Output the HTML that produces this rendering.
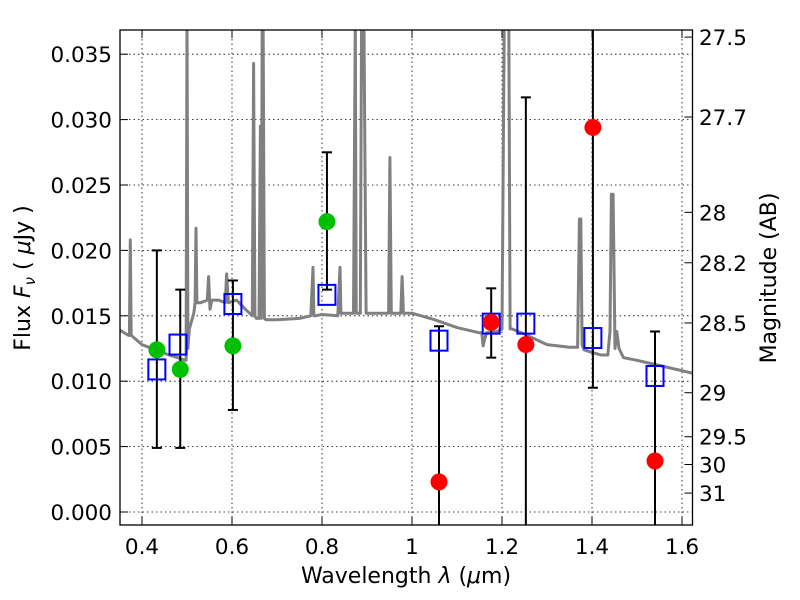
<!DOCTYPE html>
<html><head><meta charset="utf-8"><style>
html,body{margin:0;padding:0;background:#fff;overflow:hidden;width:800px;height:600px;}
svg{display:block;}
svg text{font-family:"DejaVu Sans","Liberation Sans",sans-serif;}
</style></head><body>
<svg id="chart" width="800" height="600" xmlns="http://www.w3.org/2000/svg">
<defs><clipPath id="clip"><rect x="120" y="30" width="572.5" height="495"/></clipPath></defs>
<g id="grid"></g>
<g id="spec" clip-path="url(#clip)"></g>
<g id="marks" clip-path="url(#clip)"></g>
<rect x="120" y="30" width="572.5" height="495" fill="none" stroke="#000" stroke-width="1.3"/>
<g id="axes"></g>
<text x="406" y="583" font-size="22" text-anchor="middle">Wavelength  <tspan font-style="italic">λ</tspan> (<tspan font-style="italic">μ</tspan>m)</text>
<text transform="translate(30,278) rotate(-90)" font-size="22" text-anchor="middle">Flux  <tspan font-style="italic">F</tspan><tspan font-style="italic" font-size="15" dy="5">ν</tspan><tspan dy="-5">  ( </tspan><tspan font-style="italic">μ</tspan>Jy )</text>
<text transform="translate(776,278) rotate(-90)" font-size="22" text-anchor="middle">Magnitude (AB)</text>
</svg>
<script>
const xTicks=[0.4,0.6,0.8,1.0,1.2,1.4,1.6];
const xTickLabels=["0.4","0.6","0.8","1","1.2","1.4","1.6"];
const yTicks=[0,0.005,0.010,0.015,0.020,0.025,0.030,0.035];
const yTickLabels=["0.000","0.005","0.010","0.015","0.020","0.025","0.030","0.035"];
const magTicks=[27.5,27.7,28,28.2,28.5,29,29.5,30,31];
const magTickLabels=["27.5","27.7","28","28.2","28.5","29","29.5","30","31"];
const specWave=[0.351,0.37,0.372,0.374,0.376,0.40,0.43,0.46,0.48,0.495,0.498,0.500,0.502,0.505,0.515,0.518,0.520,0.522,0.53,0.545,0.548,0.551,0.555,0.57,0.585,0.588,0.592,0.61,0.63,0.645,0.648,0.651,0.654,0.66,0.663,0.665,0.667,0.669,0.672,0.675,0.7,0.75,0.775,0.78,0.782,0.785,0.80,0.835,0.84,0.842,0.845,0.87,0.874,0.876,0.878,0.885,0.888,0.893,0.898,0.902,0.94,0.948,0.951,0.954,0.975,0.978,0.981,1.0,1.05,1.1,1.15,1.155,1.158,1.165,1.19,1.2,1.205,1.208,1.215,1.218,1.222,1.25,1.3,1.35,1.368,1.372,1.375,1.378,1.382,1.40,1.42,1.435,1.44,1.443,1.447,1.451,1.455,1.46,1.47,1.5,1.55,1.6,1.625];
const specFlux=[0.0139,0.0135,0.0135,0.0208,0.0135,0.0128,0.0124,0.0120,0.0118,0.0116,0.0116,0.038,0.0125,0.0140,0.0152,0.0160,0.0217,0.0160,0.0160,0.0162,0.0180,0.0155,0.0162,0.0162,0.0160,0.0182,0.0160,0.0162,0.0155,0.0150,0.0343,0.0150,0.0148,0.0148,0.0295,0.0148,0.038,0.038,0.0148,0.0147,0.0147,0.0148,0.0150,0.0187,0.0150,0.0150,0.0151,0.0150,0.0187,0.0152,0.0152,0.0152,0.038,0.0152,0.0152,0.0152,0.038,0.038,0.0152,0.0152,0.0152,0.0152,0.0271,0.0152,0.0152,0.0180,0.0152,0.0152,0.0147,0.0141,0.0137,0.0137,0.0127,0.0137,0.0138,0.0140,0.038,0.038,0.038,0.0140,0.0140,0.0136,0.0128,0.0126,0.0126,0.0224,0.0224,0.0128,0.0124,0.0122,0.0120,0.0120,0.0138,0.0243,0.0243,0.0125,0.0138,0.0125,0.0118,0.0116,0.0112,0.0108,0.0106];
const modelWave=[0.433,0.48,0.602,0.811,1.06,1.176,1.253,1.402,1.54];
const modelFlux=[0.0109,0.0128,0.0159,0.0166,0.0131,0.0144,0.0144,0.0133,0.0104];
const greenWave=[0.433,0.485,0.602,0.811];
const greenFlux=[0.0124,0.0109,0.0127,0.0222];
const greenLo=[0.0049,0.0049,0.0078,0.0170];
const greenHi=[0.0200,0.0170,0.0177,0.0275];
const redWave=[1.06,1.176,1.253,1.402,1.54];
const redFlux=[0.0023,0.0145,0.0128,0.0294,0.0039];
const redLo=[-0.003,0.0118,-0.003,0.0095,-0.003];
const redHi=[0.0142,0.0171,0.0317,0.038,0.0138];

const X=l=>-38+450*l;
const Y=f=>512-13080*f;
const magY=m=>Y(Math.pow(10,(23.9-m)/2.5));
const NS="http://www.w3.org/2000/svg";
function mk(parent,tag,attrs){const e=document.createElementNS(NS,tag);for(const k in attrs)e.setAttribute(k,attrs[k]);parent.appendChild(e);return e;}
const grid=document.getElementById('grid'),axes=document.getElementById('axes'),spec=document.getElementById('spec'),marks=document.getElementById('marks');
xTicks.forEach((t,i)=>{const x=X(t);
 const g=mk(grid,'line',{x1:x,x2:x,y1:30,y2:525,stroke:'#000','stroke-width':0.8,'stroke-dasharray':'1.5,3'});
 
 
 mk(axes,'line',{x1:x,x2:x,y1:525,y2:517,stroke:'#000','stroke-width':1});
 mk(axes,'line',{x1:x,x2:x,y1:30,y2:38,stroke:'#000','stroke-width':1});
 const tx=mk(axes,'text',{x:x,y:554,'font-size':21.5,'text-anchor':'middle'});tx.textContent=xTickLabels[i];
 
 
});
yTicks.forEach((t,i)=>{const y=Y(t);
 const g=mk(grid,'line',{x1:120,x2:692,y1:y,y2:y,stroke:'#000','stroke-width':0.8,'stroke-dasharray':'1.5,3'});
 
 
 mk(axes,'line',{x1:120,x2:128,y1:y,y2:y,stroke:'#000','stroke-width':1});
 const tx=mk(axes,'text',{x:112,y:y+8,'font-size':21.5,'text-anchor':'end'});tx.textContent=yTickLabels[i];
 
 
});
magTicks.forEach((m,i)=>{const y=magY(m);
 mk(axes,'line',{x1:692.5,x2:684.5,y1:y,y2:y,stroke:'#000','stroke-width':1});
 const tx=mk(axes,'text',{x:699,y:y+8,'font-size':21.5});tx.textContent=magTickLabels[i];
 
 
});
const pts=specWave.map((l,i)=>X(l).toFixed(1)+','+Y(specFlux[i]).toFixed(1)).join(' ');
const pl=mk(spec,'polyline',{points:pts,fill:'none',stroke:'#808080','stroke-width':3,'stroke-linejoin':'round'});


function ebar(l,lo,hi){const x=X(l);
 const e=mk(marks,'g',{});
 
 
 mk(e,'line',{x1:x,x2:x,y1:Y(hi),y2:Y(lo),stroke:'#000','stroke-width':2});
 mk(e,'line',{x1:x-5,x2:x+5,y1:Y(hi),y2:Y(hi),stroke:'#000','stroke-width':2});
 mk(e,'line',{x1:x-5,x2:x+5,y1:Y(lo),y2:Y(lo),stroke:'#000','stroke-width':2});}
greenWave.forEach((l,i)=>ebar(l,greenLo[i],greenHi[i]));
redWave.forEach((l,i)=>ebar(l,redLo[i],redHi[i]));
modelWave.forEach((l,i)=>{const r=mk(marks,'rect',{x:X(l)-8.5,y:Y(modelFlux[i])-10,width:17,height:20,fill:'none',stroke:'#0000ff','stroke-width':2});
 
 });
greenWave.forEach((l,i)=>{const c=mk(marks,'circle',{cx:X(l),cy:Y(greenFlux[i]),r:8.5,fill:'#00c000'});
 
 });
redWave.forEach((l,i)=>{const c=mk(marks,'circle',{cx:X(l),cy:Y(redFlux[i]),r:8.5,fill:'#ff0000'});
 
 });
</script>
</body></html>
